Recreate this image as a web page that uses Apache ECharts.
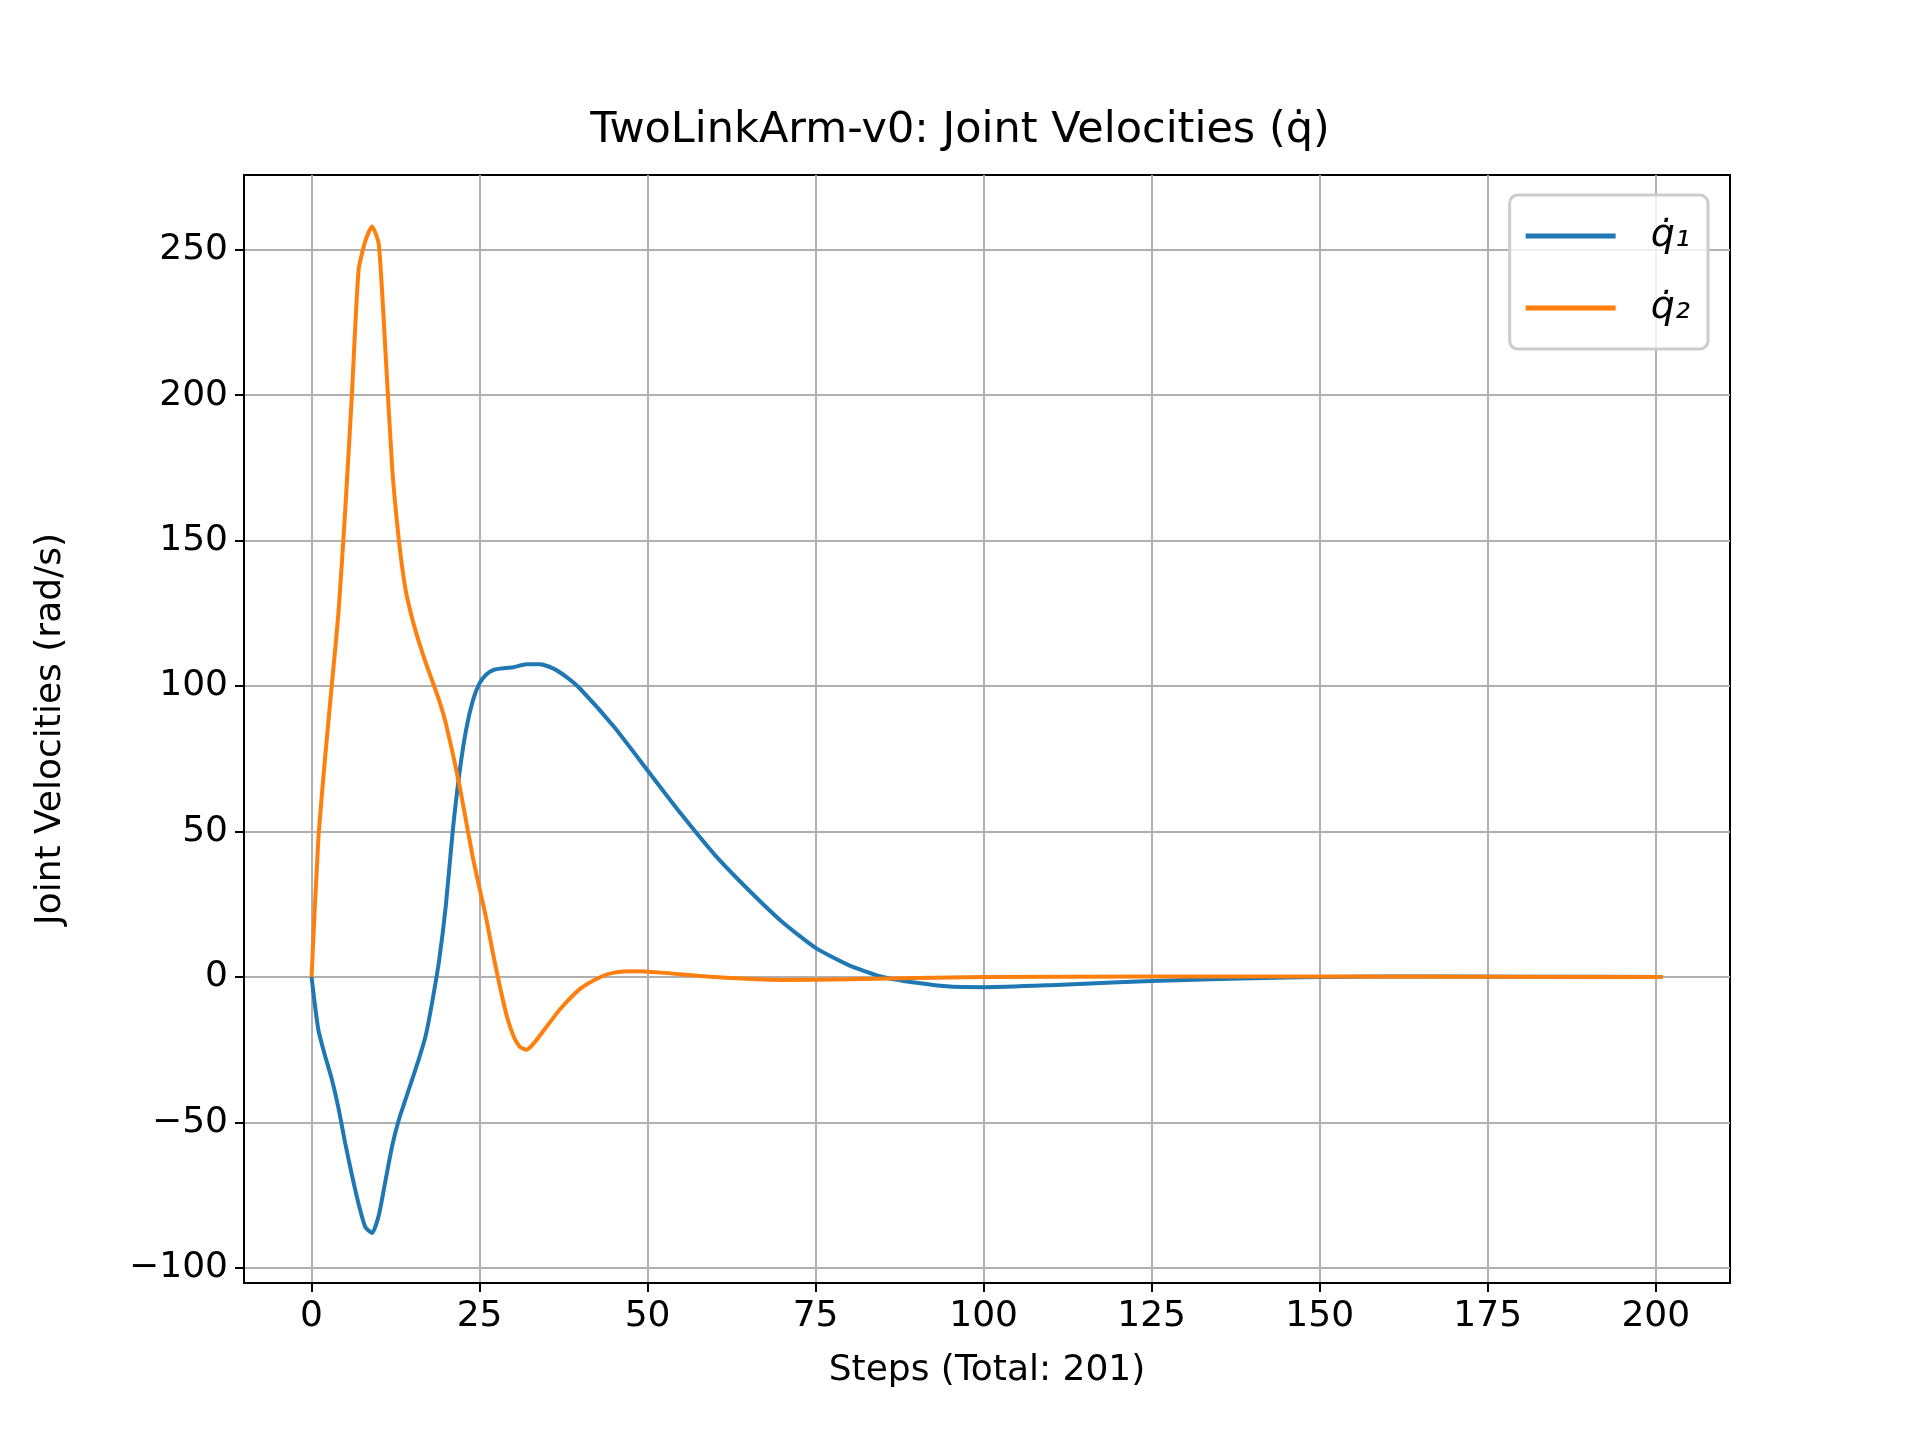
<!DOCTYPE html>
<html>
<head>
<meta charset="utf-8">
<script src="https://cdn.jsdelivr.net/npm/echarts@6/dist/echarts.min.js"></script>
<style>html,body{margin:0;padding:0;background:#fff}#main{width:1920px;height:1440px}</style>
</head>
<body>
<div id="main"></div>
<script>
// 读图估计的数据
var steps1 = [0,1,2,3,4,5,6,7,8,9,10,11,12,13,14,15,16,17,18,19,20,21,22,23,24,25,26,27,28,30,32,34,36,38,40,45,50,55,60,65,70,75,80,85,90,95,100,110,120,130,140,150,160,180,201];
var q1 = [0,-18,-27,-35,-45,-57,-68,-78,-86,-88,-82,-70,-58,-49,-42,-35,-28,-20,-8,6,25,50,70,85,95,101,104,105.5,106,106.5,107.5,107.5,106,103,99,86,71,56,42,30,19,10,4,0,-2,-3.3,-3.5,-2.8,-1.8,-1,-0.4,0,0.2,0.1,0];
var steps2 = [0,1,2,3,4,5,6,7,8,9,10,11,12,13,14,15,16,17,19,20,22,24,26,27,28,29,30,31,32,33,35,37,40,43,45,48,52,60,70,80,100,150,201];
var q2 = [0,47,75,100,125,160,200,243,253,258,252,215,175,150,133,123,115,108,95,87,66,41,20,8,-3,-13,-20,-24,-25,-23,-17,-11,-4,0,1.5,2,1.5,0,-1,-0.8,0,0.2,0];
var xTicks = [0,25,50,75,100,125,150,175,200];
var yTicks = [-100,-50,0,50,100,150,200,250];

function pairs(xs, ys){ var r=[]; for(var i=0;i<xs.length;i++) r.push([xs[i],ys[i]]); return r; }

var chart = echarts.init(document.getElementById('main'));
var font = 'DejaVu Sans';
var option = {
    backgroundColor: '#fff',
    animation: false,
    title: {
        text: 'TwoLinkArm-v0: Joint Velocities (q\u0307)',
        left: 'center', top: 104,
        textStyle: {fontFamily: font, fontSize: 43, fontWeight: 'normal', color: '#000'}
    },
    legend: {
        orient: 'vertical', right: 212, top: 195,
        padding: [22, 18, 22, 16],
        itemWidth: 90, itemHeight: 5, itemGap: 34,
        icon: 'rect',
        borderColor: '#ccc', borderWidth: 3, borderRadius: 8,
        backgroundColor: 'rgba(255,255,255,0.8)',
        textStyle: {fontFamily: font, fontSize: 38, fontStyle: 'italic', color: '#000', padding: [0,0,0,30]},
        data: ['q\u0307\u2081', 'q\u0307\u2082']
    },
    grid: {left: 244, right: 190, top: 175, bottom: 157, show: true, borderColor: '#000', borderWidth: 2},
    xAxis: {
        type: 'value', min: -10.05, max: 211.05,
        name: 'Steps (Total: 201)', nameLocation: 'middle', nameGap: 70,
        nameTextStyle: {fontFamily: font, fontSize: 36, color: '#000'},
        axisLine: {onZero: false, lineStyle: {color: '#000', width: 2}},
        axisTick: {customValues: xTicks, length: 9, lineStyle: {color: '#000', width: 2}},
        axisLabel: {customValues: xTicks, fontFamily: font, fontSize: 36, color: '#000', margin: 16},
        splitLine: {show: true, lineStyle: {color: '#b0b0b0', width: 2}}
    },
    yAxis: {
        type: 'value', min: -105.2, max: 275.7,
        name: 'Joint Velocities (rad/s)', nameLocation: 'middle', nameGap: 175,
        nameTextStyle: {fontFamily: font, fontSize: 36, color: '#000'},
        axisLine: {show: true, onZero: false, lineStyle: {color: '#000', width: 2}},
        axisTick: {show: true, customValues: yTicks, length: 9, lineStyle: {color: '#000', width: 2}},
        axisLabel: {customValues: yTicks, fontFamily: font, fontSize: 36, color: '#000', margin: 16,
            formatter: function(v){ return v < 0 ? '\u2212' + (-v) : '' + v; }},
        splitLine: {show: true, lineStyle: {color: '#b0b0b0', width: 2}}
    },
    series: [
        {name: 'q\u0307\u2081', type: 'line', data: pairs(steps1, q1), showSymbol: false, smooth: 0.2,
            lineStyle: {color: '#1f77b4', width: 4}, itemStyle: {color: '#1f77b4'}},
        {name: 'q\u0307\u2082', type: 'line', data: pairs(steps2, q2), showSymbol: false, smooth: 0.2,
            lineStyle: {color: '#ff7f0e', width: 4}, itemStyle: {color: '#ff7f0e'}}
    ]
};
chart.setOption(option);
</script>
</body>
</html>
